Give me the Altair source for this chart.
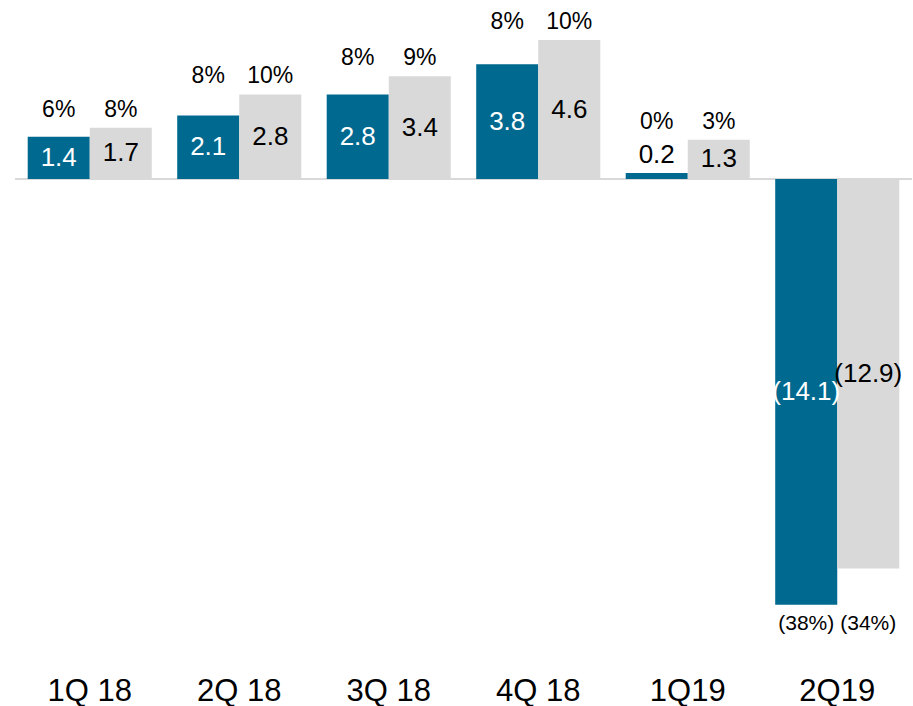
import altair as alt
import pandas as pd

quarters = ["1Q 18", "2Q 18", "3Q 18", "4Q 18", "1Q19", "2Q19"]
series_a = [1.4, 2.1, 2.8, 3.8, 0.2, -14.1]
series_b = [1.7, 2.8, 3.4, 4.6, 1.3, -12.9]
pct_a = ["6%", "8%", "8%", "8%", "0%", "(38%)"]
pct_b = ["8%", "10%", "9%", "10%", "3%", "(34%)"]

BLUE = "#00698F"
GREY = "#D9D9D9"
FONT = "Liberation Sans"


def fmt(v):
    return f"({abs(v):.1f})" if v < 0 else f"{v:.1f}"


rows = []
for i, q in enumerate(quarters):
    gmax = max(series_a[i], series_b[i])
    gmin = min(series_a[i], series_b[i])
    for s, vals, pcts in (("A", series_a, pct_a), ("B", series_b, pct_b)):
        v = vals[i]
        inside = abs(v) >= 1
        lab_y = v / 2 if inside else v + 0.6
        tcol = "white" if (s == "A" and inside) else "black"
        pct_y = gmax + 0.6 if gmin >= 0 else gmin - 0.63
        rows.append(dict(quarter=q, series=s, value=v, label=fmt(v), lab_y=lab_y,
                         tcol=tcol, pct=pcts[i], pct_y=pct_y, neg=v < 0))
df = pd.DataFrame(rows)

yscale = alt.Scale(domain=[-15, 5], nice=False, zero=False)

base = alt.Chart(df).encode(
    x=alt.X("quarter:N", sort=quarters,
            scale=alt.Scale(paddingInner=0.17, paddingOuter=0.085),
            axis=alt.Axis(title=None, domain=False, ticks=False, tickSize=0, labelAngle=0,
                          labelFont=FONT, labelFontSize=31, labelColor="black",
                          labelPadding=44)),
    xOffset=alt.XOffset("series:N", sort=["A", "B"]),
)

bars = base.mark_bar().encode(
    y=alt.Y("value:Q", scale=yscale, axis=None),
    color=alt.Color("series:N", scale=alt.Scale(domain=["A", "B"], range=[BLUE, GREY]), legend=None),
)

values = base.mark_text(font=FONT, fontSize=26, baseline="middle").encode(
    y=alt.Y("lab_y:Q", scale=yscale, axis=None),
    text="label:N",
    color=alt.Color("tcol:N", scale=None),
)

pct_pos = base.transform_filter("!datum.neg").mark_text(
    font=FONT, fontSize=23, baseline="middle", color="black").encode(
    y=alt.Y("pct_y:Q", scale=yscale, axis=None), text="pct:N")

pct_neg = base.transform_filter("datum.neg").mark_text(
    font=FONT, fontSize=21, baseline="middle", color="black").encode(
    y=alt.Y("pct_y:Q", scale=yscale, axis=None), text="pct:N")

rule = alt.Chart(pd.DataFrame({"z": [0]})).mark_rule(color=GREY, strokeWidth=2).encode(
    y=alt.Y("z:Q", scale=yscale, axis=None), x=alt.value(0), x2=alt.value(898))

chart = alt.layer(rule, bars, values, pct_pos, pct_neg).properties(
    width=897, height=604,
    autosize=alt.AutoSizeParams(type="none"),
    padding={"left": 15, "top": 28, "right": 0, "bottom": 74},
).configure_view(stroke=None)

chart.save("out.html", embed_options={"renderer": "svg", "actions": False})
